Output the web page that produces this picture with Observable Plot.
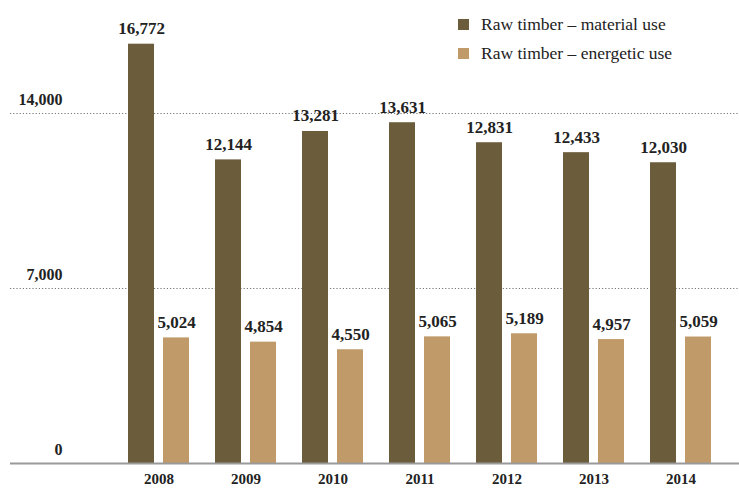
<!DOCTYPE html>
<html>
<head>
<meta charset="utf-8">
<script src="https://cdn.jsdelivr.net/npm/d3@7"></script>
<script src="https://cdn.jsdelivr.net/npm/@observablehq/plot@0.6"></script>
<style>
  html, body { margin: 0; padding: 0; background: #fff; }
  #wrap { position: relative; width: 739px; height: 488px; font-family: 'Liberation Serif', 'Times New Roman', Times, Tinos, 'DejaVu Serif', 'Noto Serif', serif; }
  #wrap svg text { font-family: 'Liberation Serif', 'Times New Roman', Times, Tinos, 'DejaVu Serif', 'Noto Serif', serif; }
  #legend { position: absolute; left: 458px; top: 10px; font-size: 17.5px; color: #222; }
  #legend .row { display: flex; align-items: center; height: 29px; }
  #legend .sw { width: 11px; height: 11px; margin-right: 12px; }
</style>
</head>
<body>
<div id="wrap"></div>
<script>
const years = ["2008", "2009", "2010", "2011", "2012", "2013", "2014"];
const material = [16772, 12144, 13281, 13631, 12831, 12433, 12030];
const energetic = [5024, 4854, 4550, 5065, 5189, 4957, 5059];
const seriesNames = ["Raw timber – material use", "Raw timber – energetic use"];
const seriesColors = ["#6b5c3b", "#c09a68"];
const yTicks = [0, 7000, 14000];

const rows = years.map((y, i) => ({year: y, material: material[i], energetic: energetic[i]}));
const fmt = d3.format(",");
const font = "'Liberation Serif', 'Times New Roman', Times, Tinos, 'DejaVu Serif', 'Noto Serif', serif";

const chart = Plot.plot({
  width: 739,
  height: 488,
  marginLeft: 10,
  marginRight: 0,
  marginTop: 13,
  marginBottom: 25,
  style: {fontFamily: font, background: "#fff"},
  x: {domain: years, paddingInner: 0.3, paddingOuter: 0.83, align: 0.81, label: null},
  y: {domain: [0, 18000], label: null},
  marks: [
    Plot.gridY(yTicks.filter(d => d > 0), {stroke: "#777", strokeOpacity: 1, strokeDasharray: "1.2,2", strokeWidth: 1}),
    Plot.barY(rows, {x: "year", y: "material", fill: seriesColors[0], insetRight: 35}),
    Plot.barY(rows, {x: "year", y: "energetic", fill: seriesColors[1], insetLeft: 35}),
    Plot.ruleY([0], {stroke: "#999", strokeWidth: 2}),
    Plot.text(rows, {x: "year", y: "material", text: d => fmt(d.material), dx: -17.5, dy: -10, lineAnchor: "bottom", fontSize: 17, fontWeight: "bold", fill: "#222"}),
    Plot.text(rows, {x: "year", y: "energetic", text: d => fmt(d.energetic), dx: 17.5, dy: -10, lineAnchor: "bottom", fontSize: 17, fontWeight: "bold", fill: "#222"}),
    Plot.axisY(yTicks, {anchor: "left", tickSize: 0, tickPadding: 0, dx: 52, dy: -9, lineAnchor: "bottom", textAnchor: "end", tickFormat: fmt, fontSize: 16, fontWeight: "bold", fill: "#222", label: null}),
    Plot.axisX({tickSize: 0, tickPadding: 10, fontSize: 15, fontWeight: "bold", fill: "#222", label: null})
  ]
});

const wrap = document.getElementById("wrap");
wrap.appendChild(chart);
const legend = document.createElement("div");
legend.id = "legend";
seriesNames.forEach((name, i) => {
  const row = document.createElement("div");
  row.className = "row";
  const sw = document.createElement("span");
  sw.className = "sw";
  sw.style.background = seriesColors[i];
  const t = document.createElement("span");
  t.textContent = name;
  row.appendChild(sw);
  row.appendChild(t);
  legend.appendChild(row);
});
wrap.appendChild(legend);
</script>
</body>
</html>
